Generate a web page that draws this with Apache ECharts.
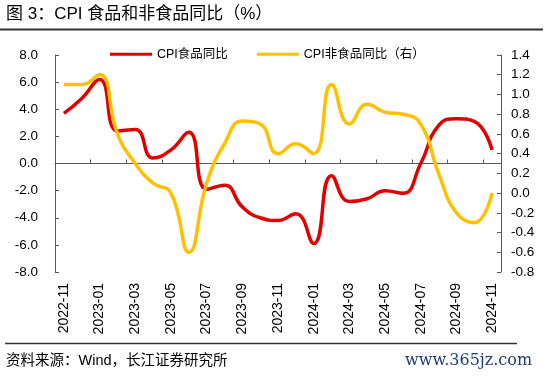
<!DOCTYPE html>
<html>
<head>
<meta charset="utf-8">
<script src="https://cdn.jsdelivr.net/npm/echarts@6/dist/echarts.min.js"></script>
<style>
html,body{margin:0;padding:0;background:#fff;}
#chart{width:550px;height:379px;}
</style>
</head>
<body>
<div id="chart"></div>
<script>
const categories = ['2022-11','2022-12','2023-01','2023-02','2023-03','2023-04','2023-05','2023-06','2023-07','2023-08','2023-09','2023-10','2023-11','2023-12','2024-01','2024-02','2024-03','2024-04','2024-05','2024-06','2024-07','2024-08','2024-09','2024-10','2024-11'];
const foodYoY = [3.7,4.8,6.2,2.4,2.5,0.4,1.0,2.3,-1.9,-1.6,-3.2,-4.0,-4.2,-3.7,-5.9,-0.9,-2.8,-2.6,-2.0,-2.2,0.0,2.8,3.3,3.1,1.0];
const nonFoodYoY = [1.1,1.1,1.2,0.6,0.3,0.1,0.0,-0.6,0.1,0.5,0.73,0.7,0.4,0.5,0.4,1.1,0.7,0.9,0.82,0.8,0.7,0.2,-0.2,-0.3,0.0];
const seriesNames = ['CPI食品同比','CPI非食品同比（右）'];
const titleText = '图 3：CPI 食品和非食品同比（%）';
const sourceText = '资料来源：Wind，长江证券研究所';
const watermark = 'www.365jz.com';

const FONT = '"Liberation Sans", Arial, "Noto Sans CJK SC", sans-serif';
const axisColor = '#595959';
const chart = echarts.init(document.getElementById('chart'), null, {renderer:'canvas'});
chart.setOption({
  animation:false,
  backgroundColor:'#fff',
  textStyle:{fontFamily:FONT},
  grid:{left:55, right:49, top:55, bottom:107, containLabel:false},
  legend:{
    data:seriesNames, left:105, top:43, itemWidth:42, itemHeight:3, itemGap:29, icon:'rect',
    textStyle:{fontSize:12.5, color:'#000', fontFamily:FONT}
  },
  xAxis:[
    {type:'category', data:categories, boundaryGap:true, position:'bottom',
     axisLine:{onZero:true, onZeroAxisIndex:0, lineStyle:{color:axisColor, width:1}},
     axisTick:{show:true, inside:true, interval:1, length:4, lineStyle:{color:axisColor}},
     axisLabel:{show:false}, splitLine:{show:false}},
    {type:'category', data:categories, boundaryGap:true, position:'bottom',
     axisLine:{show:false}, axisTick:{show:false},
     axisLabel:{show:true, interval:1, rotate:90, margin:11, fontSize:14, color:'#000', fontFamily:FONT},
     splitLine:{show:false}}
  ],
  yAxis:[
    {type:'value', min:-8, max:8, interval:2, position:'left',
     axisLine:{show:true, lineStyle:{color:axisColor}},
     axisTick:{show:true, inside:true, length:4, lineStyle:{color:axisColor}},
     axisLabel:{formatter:v=>v.toFixed(1), fontSize:13.5, color:'#000', margin:17, fontFamily:FONT},
     splitLine:{show:false}},
    {type:'value', min:-0.8, max:1.4, interval:0.2, position:'right',
     axisLine:{show:true, lineStyle:{color:axisColor}},
     axisTick:{show:true, inside:true, length:4, lineStyle:{color:axisColor}},
     axisLabel:{formatter:v=>v.toFixed(1), fontSize:13.5, color:'#000', margin:10, fontFamily:FONT},
     splitLine:{show:false}}
  ],
  series:[
    {name:seriesNames[0], type:'line', data:foodYoY, xAxisIndex:0, yAxisIndex:0, smooth:0.5, symbol:'none',
     lineStyle:{color:'#E00000', width:3.5}, itemStyle:{color:'#E00000'}},
    {name:seriesNames[1], type:'line', data:nonFoodYoY, xAxisIndex:0, yAxisIndex:1, smooth:0.5, symbol:'none',
     lineStyle:{color:'#FFC000', width:3.5}, itemStyle:{color:'#FFC000'}}
  ],
  graphic:[
    {type:'text', left:6, top:6, style:{text:titleText, fontSize:17, fill:'#000', fontFamily:FONT}},
    {type:'line', shape:{x1:0, y1:29.5, x2:543, y2:29.5}, style:{stroke:'#333', lineWidth:2}},
    {type:'line', shape:{x1:5, y1:343.5, x2:517, y2:343.5}, style:{stroke:'#333', lineWidth:1.5}},
    {type:'text', left:6, top:354, style:{text:sourceText, fontSize:14.5, fill:'#000', fontFamily:FONT}},
    {type:'text', left:405, top:353, style:{text:watermark, fontSize:16, fill:'#1F3C7A', fontFamily:'"DejaVu Serif", "Liberation Serif", serif'}}
  ]
});
</script>
</body>
</html>
